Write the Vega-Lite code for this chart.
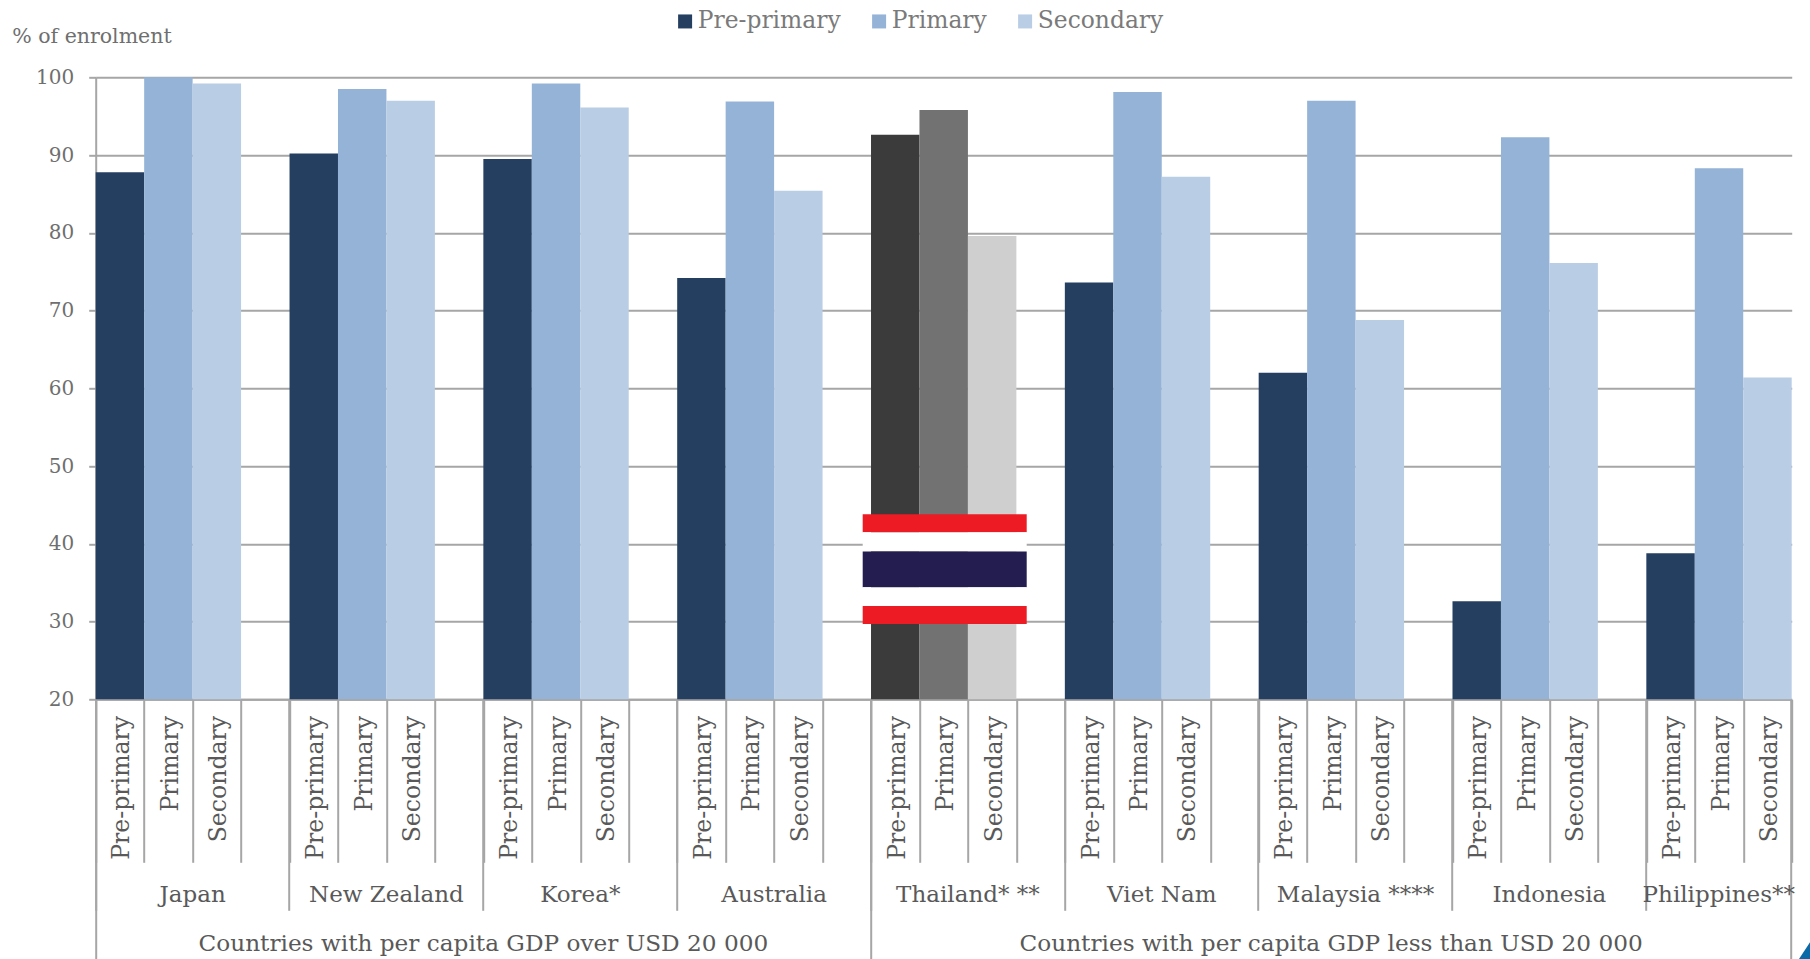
{
  "$schema": "https://vega.github.io/schema/vega-lite/v6.json",
  "width": 1696,
  "height": 622,
  "autosize": "none",
  "padding": {"left": 95.7, "top": 77.3, "right": 18.3, "bottom": 259.7},
  "background": "white",
  "config": {"view": {"stroke": null}, "font": "DejaVu Serif"},
  "datasets": {
    "enrolment": [
      {"slot": "Japan|Pre-primary", "country": "Japan", "level": "Pre-primary", "value": 87.8},
      {"slot": "Japan|Primary", "country": "Japan", "level": "Primary", "value": 100},
      {"slot": "Japan|Secondary", "country": "Japan", "level": "Secondary", "value": 99.2},
      {"slot": "New Zealand|Pre-primary", "country": "New Zealand", "level": "Pre-primary", "value": 90.2},
      {"slot": "New Zealand|Primary", "country": "New Zealand", "level": "Primary", "value": 98.5},
      {"slot": "New Zealand|Secondary", "country": "New Zealand", "level": "Secondary", "value": 97.0},
      {"slot": "Korea|Pre-primary", "country": "Korea", "level": "Pre-primary", "value": 89.5},
      {"slot": "Korea|Primary", "country": "Korea", "level": "Primary", "value": 99.2},
      {"slot": "Korea|Secondary", "country": "Korea", "level": "Secondary", "value": 96.1},
      {"slot": "Australia|Pre-primary", "country": "Australia", "level": "Pre-primary", "value": 74.2},
      {"slot": "Australia|Primary", "country": "Australia", "level": "Primary", "value": 96.9},
      {"slot": "Australia|Secondary", "country": "Australia", "level": "Secondary", "value": 85.4},
      {"slot": "Thailand|Pre-primary", "country": "Thailand", "level": "Pre-primary", "value": 92.6},
      {"slot": "Thailand|Primary", "country": "Thailand", "level": "Primary", "value": 95.8},
      {"slot": "Thailand|Secondary", "country": "Thailand", "level": "Secondary", "value": 79.6},
      {"slot": "Viet Nam|Pre-primary", "country": "Viet Nam", "level": "Pre-primary", "value": 73.6},
      {"slot": "Viet Nam|Primary", "country": "Viet Nam", "level": "Primary", "value": 98.1},
      {"slot": "Viet Nam|Secondary", "country": "Viet Nam", "level": "Secondary", "value": 87.2},
      {"slot": "Malaysia|Pre-primary", "country": "Malaysia", "level": "Pre-primary", "value": 62.0},
      {"slot": "Malaysia|Primary", "country": "Malaysia", "level": "Primary", "value": 97.0},
      {"slot": "Malaysia|Secondary", "country": "Malaysia", "level": "Secondary", "value": 68.8},
      {"slot": "Indonesia|Pre-primary", "country": "Indonesia", "level": "Pre-primary", "value": 32.6},
      {"slot": "Indonesia|Primary", "country": "Indonesia", "level": "Primary", "value": 92.3},
      {"slot": "Indonesia|Secondary", "country": "Indonesia", "level": "Secondary", "value": 76.1},
      {"slot": "Philippines|Pre-primary", "country": "Philippines", "level": "Pre-primary", "value": 38.8},
      {"slot": "Philippines|Primary", "country": "Philippines", "level": "Primary", "value": 88.3},
      {"slot": "Philippines|Secondary", "country": "Philippines", "level": "Secondary", "value": 61.4}
    ],
    "countries": [
      {"name": "Japan", "anchor": "Japan|Secondary"},
      {"name": "New Zealand", "anchor": "New Zealand|Secondary"},
      {"name": "Korea*", "anchor": "Korea|Secondary"},
      {"name": "Australia", "anchor": "Australia|Secondary"},
      {"name": "Thailand* **", "anchor": "Thailand|Secondary"},
      {"name": "Viet Nam", "anchor": "Viet Nam|Secondary"},
      {"name": "Malaysia ****", "anchor": "Malaysia|Secondary"},
      {"name": "Indonesia", "anchor": "Indonesia|Secondary"},
      {"name": "Philippines**", "anchor": "Philippines|Primary"}
    ],
    "groups": [
      {"name": "Countries with per capita GDP over USD 20 000", "anchor": "Korea|Pre-primary"},
      {"name": "Countries with per capita  GDP less than USD 20 000", "anchor": "Malaysia|Primary"}
    ],
    "flag": [
      {"stripe": "red", "low": 41.5, "high": 43.8},
      {"stripe": "white", "low": 39.0, "high": 41.5},
      {"stripe": "navy", "low": 34.4, "high": 39.0},
      {"stripe": "white", "low": 32.0, "high": 34.4},
      {"stripe": "red", "low": 29.7, "high": 32.0}
    ]
  },
  "resolve": {"scale": {"color": "independent"}, "axis": {"x": "independent"}},
  "encoding": {
    "x": {
      "field": "slot",
      "type": "nominal",
      "sort": null,
      "scale": {
        "paddingInner": 0,
        "paddingOuter": 0,
        "domain": [
          "Japan|Pre-primary", "Japan|Primary", "Japan|Secondary", "Japan|gap",
          "New Zealand|Pre-primary", "New Zealand|Primary", "New Zealand|Secondary", "New Zealand|gap",
          "Korea|Pre-primary", "Korea|Primary", "Korea|Secondary", "Korea|gap",
          "Australia|Pre-primary", "Australia|Primary", "Australia|Secondary", "Australia|gap",
          "Thailand|Pre-primary", "Thailand|Primary", "Thailand|Secondary", "Thailand|gap",
          "Viet Nam|Pre-primary", "Viet Nam|Primary", "Viet Nam|Secondary", "Viet Nam|gap",
          "Malaysia|Pre-primary", "Malaysia|Primary", "Malaysia|Secondary", "Malaysia|gap",
          "Indonesia|Pre-primary", "Indonesia|Primary", "Indonesia|Secondary", "Indonesia|gap",
          "Philippines|Pre-primary", "Philippines|Primary", "Philippines|Secondary"
        ]
      }
    }
  },
  "layer": [
    {
      "data": {"name": "enrolment"},
      "mark": {"type": "bar", "clip": false},
      "encoding": {
        "x": {
          "field": "slot",
          "type": "nominal",
          "title": null,
          "axis": {
            "orient": "bottom",
            "tickBand": "extent",
            "tickSize": 163,
            "tickWidth": 2,
            "tickColor": "#a6a6a6",
            "domainColor": "#a6a6a6",
            "domainWidth": 2,
            "labelAngle": 270,
            "labelAlign": "right",
            "labelBaseline": "middle",
            "labelPadding": -147,
            "labelOffset": 2,
            "labelFont": "DejaVu Serif",
            "labelFontSize": 23.6,
            "labelColor": "#595959",
            "labelOverlap": false,
            "labelBound": false,
            "labelFlush": false,
            "labelExpr": "datum.value ? replace(split(datum.value, '|')[1], 'gap', '') : ''"
          }
        },
        "y": {
          "field": "value",
          "type": "quantitative",
          "scale": {"domain": [20, 100], "nice": false, "zero": false},
          "title": "% of enrolment",
          "axis": {
            "values": [20, 30, 40, 50, 60, 70, 80, 90, 100],
            "grid": true,
            "gridColor": "#a6a6a6",
            "gridWidth": 2,
            "tickColor": "#a6a6a6",
            "tickWidth": 2,
            "tickSize": 7,
            "domainColor": "#a6a6a6",
            "domainWidth": 2,
            "labelFont": "DejaVu Serif",
            "labelFontSize": 20,
            "labelColor": "#6f6f6f",
            "labelPadding": 15,
            "titleFont": "DejaVu Serif",
            "titleFontSize": 20.5,
            "titleFontWeight": "normal",
            "titleColor": "#6f6f6f",
            "titleAngle": 0,
            "titleAlign": "left",
            "titleBaseline": "middle",
            "titleX": -84,
            "titleY": -41
          }
        },
        "y2": {"datum": 20},
        "color": {
          "condition": [
            {"test": "datum.country === 'Thailand' && datum.level === 'Pre-primary'", "value": "#3b3b3b"},
            {"test": "datum.country === 'Thailand' && datum.level === 'Primary'", "value": "#727272"},
            {"test": "datum.country === 'Thailand' && datum.level === 'Secondary'", "value": "#cfcfcf"}
          ],
          "field": "level",
          "type": "nominal",
          "scale": {
            "domain": ["Pre-primary", "Primary", "Secondary"],
            "range": ["#243f60", "#95b3d7", "#b9cde5"]
          },
          "legend": {
            "title": null,
            "orient": "none",
            "direction": "horizontal",
            "legendX": 577.7,
            "legendY": -68,
            "padding": 0,
            "symbolType": "square",
            "symbolSize": 196,
            "symbolStrokeWidth": 0,
            "labelFont": "DejaVu Serif",
            "labelFontSize": 23.4,
            "labelColor": "#7a7a7a",
            "labelOffset": 1,
            "columnPadding": 26
          }
        }
      }
    },
    {
      "data": {"name": "flag"},
      "mark": {"type": "bar", "width": 164, "xOffset": 1},
      "encoding": {
        "x": {"datum": "Thailand|Primary", "type": "nominal", "axis": null},
        "y": {"field": "low", "type": "quantitative"},
        "y2": {"field": "high"},
        "color": {
          "field": "stripe",
          "type": "nominal",
          "scale": {"domain": ["red", "white", "navy"], "range": ["#ed1c24", "#ffffff", "#241d4f"]},
          "legend": null
        }
      }
    },
    {
      "data": {"name": "countries"},
      "mark": {
        "type": "text",
        "font": "DejaVu Serif",
        "fontSize": 23,
        "color": "#595959",
        "align": "center",
        "baseline": "middle",
        "yOffset": 196,
        "xOffset": {"expr": "datum.name === 'Philippines**' ? 24 : 0"}
      },
      "encoding": {
        "x": {
          "field": "anchor",
          "type": "nominal",
          "bandPosition": 0,
          "title": null,
          "axis": {
            "orient": "bottom",
            "values": [
              "Japan|Pre-primary", "New Zealand|Pre-primary", "Korea|Pre-primary",
              "Australia|Pre-primary", "Thailand|Pre-primary", "Viet Nam|Pre-primary",
              "Malaysia|Pre-primary", "Indonesia|Pre-primary", "Philippines|Pre-primary"
            ],
            "bandPosition": 0,
            "tickExtra": false,
            "tickSize": 211,
            "tickWidth": 2,
            "tickColor": "#a6a6a6",
            "domain": false,
            "labels": false
          }
        },
        "y": {"datum": 20, "type": "quantitative"},
        "text": {"field": "name"}
      }
    },
    {
      "data": {"name": "groups"},
      "mark": {
        "type": "text",
        "font": "DejaVu Serif",
        "fontSize": 23.2,
        "color": "#595959",
        "align": "center",
        "baseline": "middle",
        "yOffset": 245,
        "xOffset": {"expr": "indexof(datum.name, 'less') >= 0 ? 24 : 0"}
      },
      "encoding": {
        "x": {
          "field": "anchor",
          "type": "nominal",
          "bandPosition": 0,
          "title": null,
          "axis": {
            "orient": "bottom",
            "values": ["Japan|Pre-primary", "Thailand|Pre-primary"],
            "bandPosition": 0,
            "tickExtra": false,
            "tickSize": 262,
            "tickWidth": 2,
            "tickColor": "#a6a6a6",
            "domain": false,
            "labels": false
          }
        },
        "y": {"datum": 20, "type": "quantitative"},
        "text": {"field": "name"}
      }
    },
    {
      "data": {"values": [{"slot": "Philippines|Secondary", "floor": 20}]},
      "mark": {
        "type": "point",
        "shape": "M7.3,259.7 L18.3,243 L18.3,259.7 Z",
        "size": 4,
        "filled": true,
        "opacity": 1,
        "color": "#0a6aa8"
      },
      "encoding": {
        "x": {
          "field": "slot",
          "type": "nominal",
          "bandPosition": 1,
          "title": null,
          "axis": {
            "orient": "bottom",
            "values": ["Philippines|Secondary"],
            "bandPosition": 1,
            "tickExtra": false,
            "tickSize": 262,
            "tickWidth": 2,
            "tickColor": "#a6a6a6",
            "domain": false,
            "labels": false
          }
        },
        "y": {"field": "floor", "type": "quantitative"}
      }
    }
  ]
}
